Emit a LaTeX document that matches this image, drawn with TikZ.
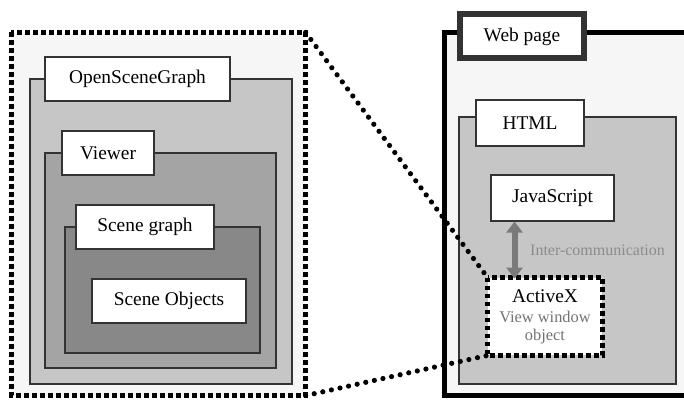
\documentclass[tikz,border=0pt]{standalone}
\usepackage{fontspec}
\setmainfont{Liberation Serif}
\usepackage{tikz}
\usepackage{color}
\usetikzlibrary{arrows.meta}

\definecolor{pagefill}{HTML}{F6F6F6}
\definecolor{osgfill}{HTML}{C6C6C6}
\definecolor{viewfill}{HTML}{A4A4A4}
\definecolor{graphfill}{HTML}{888888}
\definecolor{linkgray}{HTML}{7A7A7A}

\tikzset{
  area/.style={draw=black!80, line width=0.6pt, inner sep=0pt},
  label box/.style={draw=black!80, fill=white, line width=0.6pt, inner sep=0pt,
    font=\fontsize{9.7}{11}\selectfont},
  thick dots/.style={line width=2.2pt, dash pattern=on 2.4pt off 1.6pt},
  round dots/.style={line width=2.6pt, line cap=round, dash pattern=on 0pt off 4.4pt}
}

\begin{document}
\begin{tikzpicture}[x=0.5pt,y=-0.5pt]
\useasboundingbox (0,0) rectangle (684,400);
% left zone: OpenSceneGraph side
\node [area, draw=none, fill=pagefill, minimum width=146.5pt, minimum height=181pt] (zone) at (158.5,214) {};
\node [area, fill=osgfill, minimum width=131pt, minimum height=152.5pt] (osg) at (161,231.5) {};
\node [area, fill=viewfill, minimum width=115.5pt, minimum height=107.5pt] (viewer) at (160.5,260.5) {};
\node [area, fill=graphfill, minimum width=97.5pt, minimum height=63pt] (sgraph) at (162.5,290) {};
\node [label box, minimum width=92.5pt, minimum height=22pt] (osglabel) at (137.5,79) {OpenSceneGraph};
\node [label box, minimum width=46pt, minimum height=22pt] (viewerlabel) at (108,153) {Viewer};
\node [label box, minimum width=69pt, minimum height=22pt] (sgraphlabel) at (145,227) {Scene graph};
\node [label box, minimum width=77pt, minimum height=22pt] (objects) at (169,301) {Scene Objects};
\draw [thick dots] (zone.north west) rectangle (zone.south east);

% right zone: web page
\node [area, draw=none, fill=pagefill, minimum width=120pt, minimum height=181pt] (page) at (565,214) {};
\draw [line width=2.8pt] (page.north east) -- (page.north west) -- (page.south west) -- (page.south east);
\node [area, fill=osgfill, minimum width=108.5pt, minimum height=133.5pt] (html) at (567.5,250.5) {};
\node [label box, line width=3pt, minimum width=62pt, minimum height=22pt] (weblabel) at (522,36.5) {Web page};
\node [label box, minimum width=54pt, minimum height=23pt] (htmllabel) at (530,123) {HTML};
\node [label box, minimum width=61.5pt, minimum height=23pt] (js) at (552.5,198) {JavaScript};
\node [fill=white, inner sep=0pt, minimum width=57pt, minimum height=38.5pt, align=center,
  font=\fontsize{9.7}{9}\selectfont] (activex) at (545,316.5)
  {ActiveX\\[1pt]{\fontsize{8.2}{8}\selectfont\color{black!55}View window}\\{\fontsize{8.2}{8}\selectfont\color{black!55}object}};
\draw [thick dots] (activex.north west) rectangle (activex.south east);

% link between the two sides
\draw [linkgray, line width=3pt, {Triangle[width=8pt,length=5.5pt]}-{Triangle[width=8pt,length=5.5pt]}]
  ([xshift=-19pt]js.south) -- ([xshift=-19pt,yshift=-0.5pt]js.south |- activex.north)
  node [midway, right=3pt, text=black!45, font=\fontsize{8}{9}\selectfont] {Inter-communication};
\draw [round dots] (zone.north east) -- (activex.north west);
\draw [round dots] (zone.south east) -- (activex.south west);
\end{tikzpicture}
\end{document}
